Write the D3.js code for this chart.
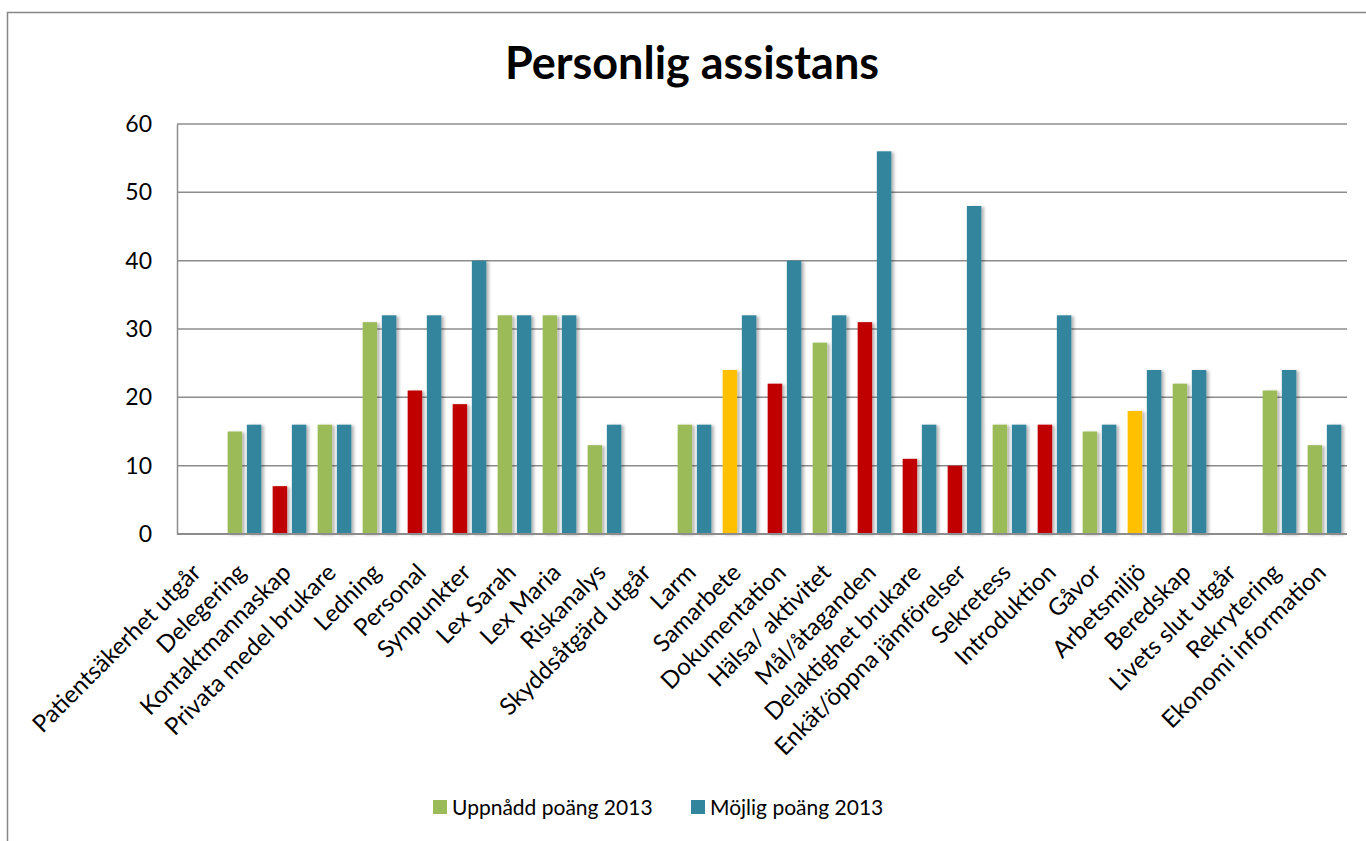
<!DOCTYPE html>
<html><head><meta charset="utf-8">
<script src="https://cdn.jsdelivr.net/npm/d3@7"></script>
<style>
html,body{margin:0;padding:0;background:#fff;}
svg{display:block;}
</style></head>
<body>
<svg id="chart" width="1366" height="841"></svg>
<script>
const categories = ["Patientsäkerhet utgår","Delegering","Kontaktmannaskap","Privata medel brukare","Ledning","Personal","Synpunkter","Lex Sarah","Lex Maria","Riskanalys","Skyddsåtgärd utgår","Larm","Samarbete","Dokumentation","Hälsa/ aktivitet","Mål/åtaganden","Delaktighet brukare","Enkät/öppna jämförelser","Sekretess","Introduktion","Gåvor","Arbetsmiljö","Beredskap","Livets slut utgår","Rekrytering","Ekonomi information"];
const achieved = [null,15,7,16,31,21,19,32,32,13,null,16,24,22,28,31,11,10,16,16,15,18,22,null,21,13];
const possible = [null,16,16,16,32,32,40,32,32,16,null,16,32,40,32,56,16,48,16,32,16,24,24,null,24,16];
const achievedStatus = [null,"ok","low","ok","ok","low","low","ok","ok","ok",null,"ok","mid","low","ok","low","low","low","ok","low","ok","mid","ok",null,"ok","ok"];
const seriesNames = ["Uppnådd poäng 2013","Möjlig poäng 2013"];
const yTicks = [0,10,20,30,40,50,60];
const title = "Personlig assistans";

(function(){
const statusColor = {ok:"#9BBB59", low:"#C00000", mid:"#FFC000"};
const possibleColor = "#31859C";
const FONT = "Lato, 'Open Sans', sans-serif";

const svg = d3.select("#chart");
const pLeft = 177, pRight = 1347, pTop = 124, pBottom = 534;

svg.append("rect").attr("x",7.5).attr("y",12.5).attr("width",1380).attr("height",860)
  .attr("fill","#fff").attr("stroke","#868686").attr("stroke-width",1.5);

const defs = svg.append("defs");
const f = defs.append("filter").attr("id","sh").attr("x","-30%").attr("y","-10%").attr("width","180%").attr("height","130%");
f.append("feDropShadow").attr("dx",2.5).attr("dy",1).attr("stdDeviation",1.6).attr("flood-color","#000").attr("flood-opacity",0.3);

const x = d3.scaleBand().domain(categories).range([pLeft,pRight]).padding(0);
const xs = d3.scaleBand().domain(["a","p"]).range([0,x.bandwidth()]).paddingInner(0.245).paddingOuter(0.294);
const y = d3.scaleLinear().domain([0,60]).range([pBottom,pTop]);

svg.append("g").selectAll("line").data(yTicks).join("line")
  .attr("x1",pLeft).attr("x2",pRight).attr("y1",d=>y(d)).attr("y2",d=>y(d))
  .attr("stroke","#8c8c8c").attr("stroke-width",1.5);

const yAxis = d3.axisLeft(y).tickValues(yTicks).tickSize(0).tickPadding(25);
const ya = svg.append("g").attr("transform",`translate(${pLeft},0)`).call(yAxis);
ya.select(".domain").attr("stroke","#8c8c8c").attr("stroke-width",1.5);
ya.selectAll("text").attr("font-family",FONT).attr("font-size",23).attr("fill","#000");

const g = svg.append("g").attr("filter","url(#sh)");
categories.forEach((c,i)=>{
  if (achieved[i] != null) {
    g.append("rect").attr("x",x(c)+xs("a")).attr("width",xs.bandwidth())
      .attr("y",y(achieved[i])).attr("height",y(0)-y(achieved[i]))
      .attr("fill",statusColor[achievedStatus[i]]);
  }
  if (possible[i] != null) {
    g.append("rect").attr("x",x(c)+xs("p")).attr("width",xs.bandwidth())
      .attr("y",y(possible[i])).attr("height",y(0)-y(possible[i]))
      .attr("fill",possibleColor);
  }
});

svg.append("line").attr("x1",pLeft).attr("x2",pRight).attr("y1",pBottom).attr("y2",pBottom)
  .attr("stroke","#8c8c8c").attr("stroke-width",2);

svg.append("g").selectAll("text").data(categories).join("text")
  .attr("transform",d=>`translate(${x(d)+x.bandwidth()/2-3},${568}) rotate(-45)`)
  .attr("text-anchor","end").attr("dy","0.35em")
  .attr("font-family",FONT).attr("font-size",24).attr("fill","#000")
  .text(d=>d);

svg.append("text").attr("x",692).attr("y",79).attr("text-anchor","middle")
  .attr("font-family",FONT).attr("font-weight","bold").attr("font-size",45).attr("fill","#000")
  .text(title);

const legColors = [statusColor.ok, possibleColor];
const legX = [433, 691];
const leg = svg.append("g");
seriesNames.forEach((n,i)=>{
  leg.append("rect").attr("x",legX[i]).attr("y",800).attr("width",14).attr("height",14).attr("fill",legColors[i]);
  leg.append("text").attr("x",legX[i]+19).attr("y",815).attr("font-family",FONT).attr("font-size",21).attr("fill","#000").text(n);
});
})();
</script>
</body></html>
